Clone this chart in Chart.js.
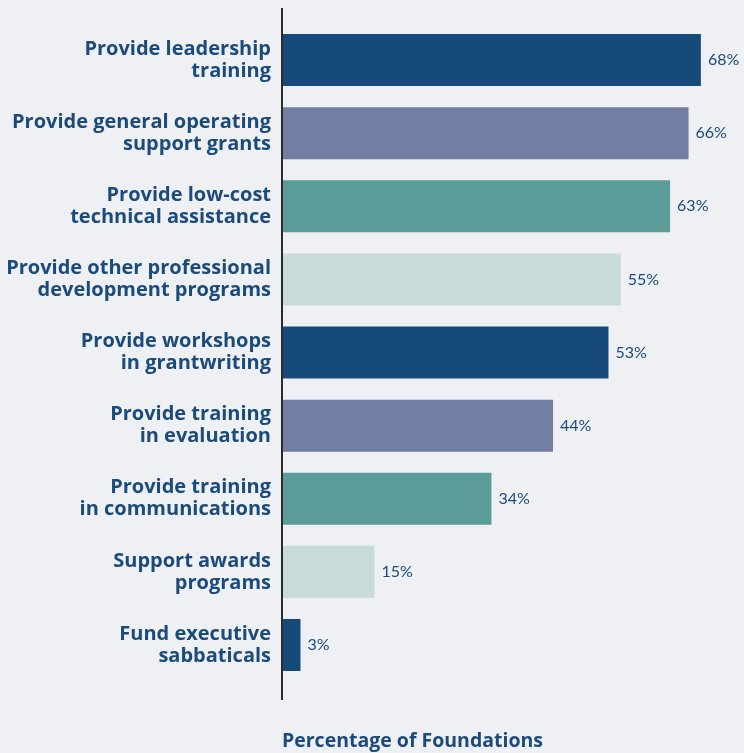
<!DOCTYPE html>
<html>
<head>
<meta charset="utf-8">
<script src="https://cdn.jsdelivr.net/npm/chart.js@4"></script>
<style>
    html, body { margin: 0; padding: 0; background: #eef0f4; }
    .chart-container { position: relative; width: 744px; height: 753px; }
</style>
</head>
<body>
<div class="chart-container">
    <canvas id="chartApoyo"></canvas>
</div>
<script>
// Datos del gráfico
const categorias = [
    ['Provide leadership', 'training'],
    ['Provide general operating', 'support grants'],
    ['Provide low-cost', 'technical assistance'],
    ['Provide other professional', 'development programs'],
    ['Provide workshops', 'in grantwriting'],
    ['Provide training', 'in evaluation'],
    ['Provide training', 'in communications'],
    ['Support awards', 'programs'],
    ['Fund executive', 'sabbaticals']
]
const porcentajes = [68, 66, 63, 55, 53, 44, 34, 15, 3]
const colores = ['#164a7b', '#727ea4', '#5b9b98', '#c6dbda', '#164a7b', '#727ea4', '#5b9b98', '#c6dbda', '#164a7b']
const tituloEje = 'Percentage of Foundations'

const azulTexto = '#1b4b7b'
const fuente = "'Open Sans', Lato, sans-serif"

// Plugin: línea del eje y etiquetas de valores
const extras = {
    id: 'extras',
    afterDatasetsDraw(chart) {
        const { ctx, chartArea } = chart
        const meta = chart.getDatasetMeta(0)
        ctx.save()
        ctx.font = `16px Lato, sans-serif`
        ctx.fillStyle = azulTexto
        ctx.textAlign = 'left'
        ctx.textBaseline = 'middle'
        meta.data.forEach((bar, i) => {
            ctx.fillText(`${porcentajes[i]}%`, bar.x + 7, bar.y)
        })
        ctx.strokeStyle = '#2b2b2b'
        ctx.lineWidth = 2
        ctx.beginPath()
        ctx.moveTo(chartArea.left, chartArea.top - 15.5)
        ctx.lineTo(chartArea.left, chartArea.bottom + 18.5)
        ctx.stroke()
        ctx.restore()
    }
}

const ctx = document.getElementById('chartApoyo').getContext('2d')
new Chart(ctx, {
    type: 'bar',
    data: {
        labels: categorias,
        datasets: [{
            data: porcentajes,
            backgroundColor: colores,
            borderWidth: 0,
            barPercentage: 52 / 73,
            categoryPercentage: 1
        }]
    },
    options: {
        indexAxis: 'y',
        responsive: true,
        maintainAspectRatio: false,
        animation: false,
        layout: {
            padding: { top: 23.5, left: 0, right: 0, bottom: 0 }
        },
        plugins: {
            legend: { display: false },
            tooltip: { enabled: false },
            title: {
                display: true,
                text: tituloEje,
                position: 'bottom',
                align: 'start',
                fullSize: false,
                color: azulTexto,
                font: { family: fuente, size: 19.5, weight: 'bold' },
                padding: { top: 48, bottom: 0 }
            }
        },
        scales: {
            x: {
                display: false,
                min: 0,
                max: 75
            },
            y: {
                afterFit: (scale) => {
                    scale.width = 282
                    scale.paddingTop = 0
                    scale.paddingBottom = 0
                },
                grid: { display: false, drawTicks: false },
                border: { display: false },
                ticks: {
                    padding: 11,
                    color: azulTexto,
                    font: { family: fuente, size: 20, weight: 'bold', lineHeight: 1.1 }
                }
            }
        }
    },
    plugins: [extras]
})
</script>
</body>
</html>
